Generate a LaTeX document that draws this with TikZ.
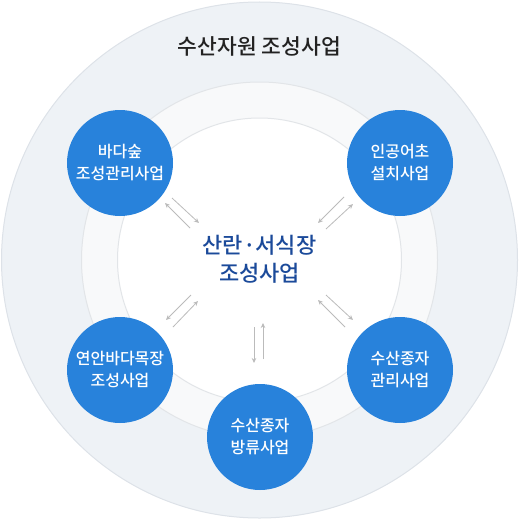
\documentclass[tikz,border=0pt]{standalone}
\usepackage{fontspec}
\setmainfont{Noto Sans CJK KR}
\newfontfamily\cjkmed{Noto Sans CJK KR Medium}
\usetikzlibrary{arrows.meta}
\definecolor{outerfill}{HTML}{EEF2F6}
\definecolor{outerline}{HTML}{DDE2E8}
\definecolor{ringfill}{HTML}{F8F9FA}
\definecolor{ringline}{HTML}{E2E5E8}
\definecolor{bluec}{HTML}{2882DB}
\definecolor{centertxt}{HTML}{1B4A9A}
\definecolor{arrgray}{HTML}{BBBBBB}
\definecolor{titletxt}{HTML}{222222}
\begin{document}
\begin{tikzpicture}[x=1pt,y=-1pt,
  disk/.style={circle, inner sep=0pt, outer sep=0pt},
  bluedisk/.style={disk, fill=bluec, minimum size=106pt, text=white, align=center,
     font=\cjkmed\fontsize{16}{22}\selectfont},
  arr/.style={draw=arrgray, line width=0.8pt, -{Stealth[length=5pt,width=4.5pt]}}]
\useasboundingbox (0,0) rectangle (519,519);
\node[disk, fill=outerfill, draw=outerline, line width=1pt, minimum size=516pt] (outer) at (259.5,260) {};
\node[disk, fill=ringfill, draw=ringline, line width=1pt, minimum size=356pt] (ring) at (259.5,260) {};
\node[disk, fill=white, draw=ringline, line width=1pt, minimum size=284pt] (inner) at (259.5,260) {};
\node[text=titletxt, font=\cjkmed\fontsize{21.5}{24}\selectfont] (title) at (259.5,46) {수산자원 조성사업};
\node[text=centertxt, align=center, font=\cjkmed\fontsize{22}{28}\selectfont] (center) at (259.5,259) {산란·서식장\\조성사업};
\node[bluedisk] (c1) at (120,163) {바다숲\\조성관리사업};
\node[bluedisk] (c2) at (400,163) {인공어초\\설치사업};
\node[bluedisk] (c3) at (120,370) {연안바다목장\\조성사업};
\node[bluedisk] (c4) at (400,370) {수산종자\\관리사업};
\node[bluedisk] (c5) at (260,437) {수산종자\\방류사업};
% top-left pair
\coordinate (a1s) at (190,228); \coordinate (a1e) at (165,203);
\coordinate (b1s) at (172,198); \coordinate (b1e) at (199,223);
\draw[arr] (a1s) -- (a1e); \draw[arr] (b1s) -- (b1e);
% top-right pair
\coordinate (a2s) at (344,197); \coordinate (a2e) at (318,223);
\coordinate (b2s) at (326,229); \coordinate (b2e) at (353,204);
\draw[arr] (a2s) -- (a2e); \draw[arr] (b2s) -- (b2e);
% bottom-left pair
\coordinate (a3s) at (191,295); \coordinate (a3e) at (166,320);
\coordinate (b3s) at (173,327); \coordinate (b3e) at (198,301);
\draw[arr] (a3s) -- (a3e); \draw[arr] (b3s) -- (b3e);
% bottom-right pair
\coordinate (a4s) at (345,327); \coordinate (a4e) at (318,300);
\coordinate (b4s) at (326,295); \coordinate (b4e) at (353,320);
\draw[arr] (a4s) -- (a4e); \draw[arr] (b4s) -- (b4e);
% vertical pair
\coordinate (a5s) at (254,327); \coordinate (a5e) at (254,363);
\coordinate (b5s) at (263,359); \coordinate (b5e) at (263,323);
\draw[arr] (a5s) -- (a5e); \draw[arr] (b5s) -- (b5e);
\end{tikzpicture}
\end{document}
